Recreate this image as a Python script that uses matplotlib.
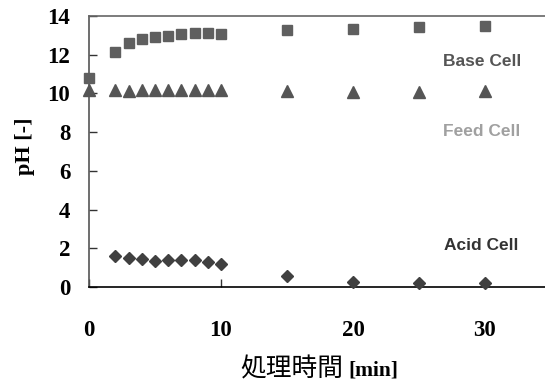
import matplotlib
matplotlib.use("Agg")
import matplotlib.pyplot as plt

time_base = [0, 2, 3, 4, 5, 6, 7, 8, 9, 10, 15, 20, 25, 30]
ph_base = [10.8, 12.15, 12.6, 12.83, 12.92, 12.98, 13.07, 13.14, 13.14, 13.05, 13.27, 13.34, 13.43, 13.5]
time_feed = [0, 2, 3, 4, 5, 6, 7, 8, 9, 10, 15, 20, 25, 30]
ph_feed = [10.2, 10.18, 10.1, 10.18, 10.18, 10.18, 10.18, 10.18, 10.18, 10.18, 10.12, 10.07, 10.07, 10.12]
time_acid = [2, 3, 4, 5, 6, 7, 8, 9, 10, 15, 20, 25, 30]
ph_acid = [1.62, 1.48, 1.43, 1.34, 1.41, 1.41, 1.41, 1.31, 1.17, 0.58, 0.27, 0.19, 0.19]
xticks = [0, 10, 20, 30]
yticks = [0, 2, 4, 6, 8, 10, 12, 14]

W, H = 545, 386
fig = plt.figure(figsize=(W / 100, H / 100), dpi=100)
ax = fig.add_axes([89 / W, 1 - 287 / H, 1 - 89 / W, 271 / H])

ax.plot(time_base, ph_base, linestyle='none', marker='s', markersize=7.6, color='#5f5f5f', clip_on=False, zorder=3)
ax.plot(time_feed, ph_feed, linestyle='none', marker='^', markersize=8.5, color='#555555', clip_on=False, zorder=3)
ax.plot(time_acid, ph_acid, linestyle='none', marker='D', markersize=6.2, color='#404040', clip_on=False, zorder=3)

lab_kw = dict(ha='center', va='center', fontsize=12.5, fontweight='bold', family='Liberation Sans')
ax.text(29.75, 11.64, 'Base Cell', color='#555555', **lab_kw)
ax.text(29.75, 8.02, 'Feed Cell', color='#a0a0a0', **lab_kw)
ax.text(29.75, 2.12, 'Acid Cell', color='#333333', **lab_kw)

ax.set_xlim(0, 34.55)
ax.set_ylim(0, 14)
ax.set_xticks(xticks)
ax.set_yticks(yticks)
ax.tick_params(axis='both', direction='in', length=6, width=1, colors='#333333', labelcolor='black')
ax.tick_params(axis='x', pad=24)
ax.tick_params(axis='y', pad=13.5)
for lab in ax.get_xticklabels() + ax.get_yticklabels():
    lab.set_fontfamily('Liberation Serif')
    lab.set_fontweight('bold')
    lab.set_fontsize(16.5)

ax.spines['right'].set_visible(False)
ax.spines['left'].set_color('#555555')
ax.spines['top'].set_color('#666666')
ax.spines['bottom'].set_color('black')
for s in ['left', 'top', 'bottom']:
    ax.spines[s].set_linewidth(1.2)

fig.text(25 / W, 1 - 146.5 / H, 'pH [-]', rotation=90, ha='center', va='center',
         family='Liberation Serif', fontweight='bold', fontsize=16)
fig.text(343 / W, 1 - 376 / H, '処理時間', ha='right', va='baseline',
         family=['Noto Sans CJK JP', 'DejaVu Sans'], fontsize=18.5)
fig.text(348 / W, 1 - 376 / H, '[min]', ha='left', va='baseline',
         family='Liberation Serif', fontweight='bold', fontsize=15.5)

fig.savefig('out.png', dpi=100)
